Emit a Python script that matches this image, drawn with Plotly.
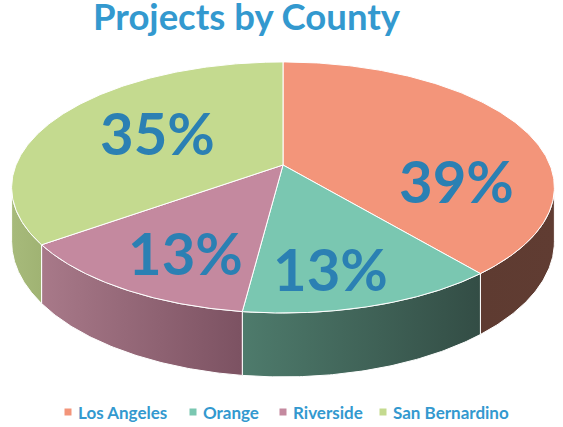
import numpy as np
import plotly.graph_objects as go

# data
counties = ["Los Angeles", "Orange", "Riverside", "San Bernardino"]
shares = [39, 13, 13, 35]
pct_labels = ["39%", "13%", "13%", "35%"]

# styles
top_colors = ["#F3957A", "#7AC7B1", "#C4899F", "#C4DA8F"]
wall_colors = [("#5E3B31", "#603C32"), ("#4E7B6C", "#334D45"),
               ("#A87989", "#7C5262"), ("#A7BA7B", "#A0B373")]
text_blue = "#2B80B3"
title_blue = "#3399CF"

# geometry of the tilted pie (pixels)
cx, cy = 283, 165
rx, ry = 267, 121.5
persp = 0.179
depth = 52.5
label_r = [0.72, 0.58, 0.645, 0.55]
label_shift = [-44, -28, -13, 3]
legend_x = [68, 193, 283, 383]
legend_y = 412


def project(phi, r=1.0, drop=0.0):
    u = r * np.sin(phi)
    v = -r * np.cos(phi)
    s = 1 / (1 - persp * v)
    return cx + rx * u * s, cy + (ry * v + drop) * s


edges = np.concatenate([[0], np.cumsum(shares)]) / sum(shares) * 2 * np.pi
# the side wall is only seen between the two widest points
vis_lo = np.arccos(-persp)
vis_hi = 2 * np.pi - vis_lo

fig = go.Figure()

# side walls
for i in range(len(shares)):
    a0 = max(edges[i], vis_lo)
    a1 = min(edges[i + 1], vis_hi)
    if a1 <= a0:
        continue
    phi = np.linspace(a0, a1, 80)
    xt, yt = project(phi)
    xb, yb = project(phi[::-1], drop=depth)
    fig.add_trace(go.Scatter(
        x=np.concatenate([xt, xb, xt[:1]]),
        y=np.concatenate([yt, yb, yt[:1]]),
        mode="lines", fill="toself",
        line=dict(color="white", width=1),
        fillgradient=dict(type="horizontal",
                          colorscale=[[0, wall_colors[i][0]], [1, wall_colors[i][1]]]),
        hoverinfo="skip", showlegend=False))

# top faces
for i in range(len(shares)):
    phi = np.linspace(edges[i], edges[i + 1], 200)
    xa, ya = project(phi)
    fig.add_trace(go.Scatter(
        x=np.concatenate([[cx], xa, [cx]]),
        y=np.concatenate([[cy], ya, [cy]]),
        mode="lines", fill="toself", fillcolor=top_colors[i],
        line=dict(color="white", width=1),
        name=counties[i], hoverinfo="name", showlegend=False))

# percentage labels
for i in range(len(shares)):
    mid = (edges[i] + edges[i + 1]) / 2
    lx, ly = project(mid, r=label_r[i])
    fig.add_annotation(x=lx, y=ly, text=pct_labels[i], showarrow=False,
                       yshift=label_shift[i],
                       font=dict(family="Lato", size=58, color=text_blue, weight="bold"))

# legend
fig.add_trace(go.Scatter(
    x=legend_x, y=[legend_y] * len(counties), mode="markers",
    marker=dict(symbol="square", size=7, color=top_colors),
    hoverinfo="skip", showlegend=False))
for i, name in enumerate(counties):
    fig.add_annotation(x=legend_x[i] + 8, y=legend_y, text=name, showarrow=False,
                       xanchor="left", yanchor="middle",
                       font=dict(family="Lato", size=17, color=title_blue, weight="bold"))

fig.add_annotation(x=247, y=16, text="Projects by County", showarrow=False,
                   xanchor="center", yanchor="middle",
                   font=dict(family="Lato", size=36.5, color=title_blue, weight="bold"))

fig.update_layout(
    width=563, height=427,
    margin=dict(l=0, r=0, t=0, b=0),
    paper_bgcolor="white", plot_bgcolor="white",
    xaxis=dict(range=[0, 563], visible=False, fixedrange=True),
    yaxis=dict(range=[427, 0], visible=False, fixedrange=True),
    showlegend=False,
)

# the page body has a default 8px margin; drop it so the figure sits at 0,0
fig.write_html("out.html", config={"displayModeBar": False},
               post_script="document.body.style.margin = '0px';")
